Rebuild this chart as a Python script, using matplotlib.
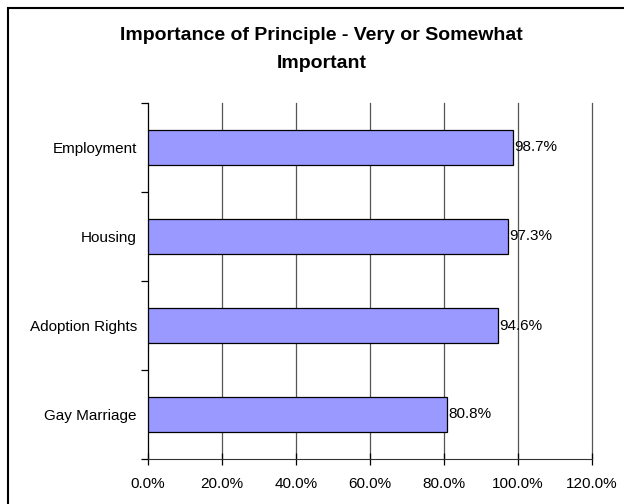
import matplotlib.pyplot as plt
from matplotlib.patches import Rectangle
from matplotlib.ticker import FixedLocator

categories = ['Gay Marriage', 'Adoption Rights', 'Housing', 'Employment']
values = [80.8, 94.6, 97.3, 98.7]
xticks = [0, 20, 40, 60, 80, 100, 120]
title_lines = ['Importance of Principle - Very or Somewhat', 'Important']

plt.rcParams['font.family'] = ['Liberation Sans', 'DejaVu Sans']

fig = plt.figure(figsize=(6.24, 5.04), dpi=100)
ax = fig.add_axes([148 / 624, 1 - 459 / 504, (592 - 148) / 624, (459 - 103) / 504])

# chart border: only top and left edges fall inside the image
fig.patches.append(Rectangle((8 / 624, -0.05), 1.0, 1 - 8 / 504 + 0.05, transform=fig.transFigure,
                             fill=False, edgecolor='black', linewidth=1.5))

pos = list(range(len(categories)))
ax.barh(pos, values, height=0.4, color='#9999FF', edgecolor='black', linewidth=0.9, zorder=3)
for p, v in zip(pos, values):
    ax.text(v + 0.4, p, f'{v:.1f}%', va='center', ha='left', fontsize=11)

ax.set_xlim(0, 120)
ax.set_ylim(-0.5, len(categories) - 0.5)
ax.set_xticks(xticks)
ax.set_xticklabels([f'{t:.1f}%' for t in xticks], fontsize=11)
ax.xaxis.grid(True, color='#555555', linewidth=0.9, zorder=0)
for gl in ax.get_xgridlines():
    gl.set_clip_on(False)

ax.set_yticks(pos)
ax.set_yticklabels(categories, fontsize=11)
ax.tick_params(axis='y', which='major', length=0, pad=8)
ax.yaxis.set_minor_locator(FixedLocator([-0.5, 0.5, 1.5, 2.5, 3.5]))
ax.tick_params(axis='y', which='minor', length=5, direction='out', width=0.9)
ax.tick_params(axis='x', length=8, direction='inout', width=0.9, pad=9)

for s in ['top', 'right']:
    ax.spines[s].set_visible(False)
ax.spines['left'].set_color('black')
ax.spines['bottom'].set_color('#333333')

for line, ypx in zip(title_lines, [36, 63]):
    fig.text(0.515, 1 - ypx / 504, line, ha='center', va='center', fontsize=14, fontweight='bold')

fig.savefig('out.png', dpi=100)
